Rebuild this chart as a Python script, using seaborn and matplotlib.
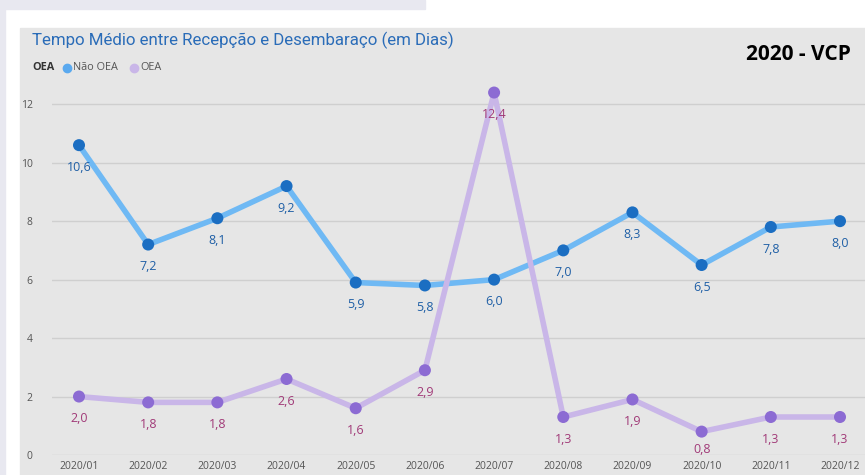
import matplotlib
matplotlib.use("Agg")
import matplotlib.pyplot as plt
import pandas as pd
import seaborn as sns
from matplotlib.lines import Line2D
from matplotlib.patches import Rectangle

# data
meses = ["2020/01", "2020/02", "2020/03", "2020/04", "2020/05", "2020/06",
         "2020/07", "2020/08", "2020/09", "2020/10", "2020/11", "2020/12"]
nao_oea = [10.6, 7.2, 8.1, 9.2, 5.9, 5.8, 6.0, 7.0, 8.3, 6.5, 7.8, 8.0]
oea = [2.0, 1.8, 1.8, 2.6, 1.6, 2.9, 12.4, 1.3, 1.9, 0.8, 1.3, 1.3]
yticks = [0, 2, 4, 6, 8, 10, 12]

df = pd.DataFrame({
    "pos": list(range(len(meses))) * 2,
    "valor": nao_oea + oea,
    "serie": ["Não OEA"] * len(meses) + ["OEA"] * len(meses),
})

line_cols = {"Não OEA": "#6fb9f4", "OEA": "#c9b6e8"}
dot_cols = {"Não OEA": "#1b6ec2", "OEA": "#8c6bd3"}
lab_cols = {"Não OEA": "#1f5fa6", "OEA": "#a13a78"}

plt.rcParams["font.family"] = ["Open Sans", "DejaVu Sans"]
fig = plt.figure(figsize=(8.65, 4.75), dpi=100)
fig.patch.set_facecolor("white")
W, H = 865, 475

# page background bits
for r in [Rectangle((0, 1 - 9 / H), 425 / W, 9 / H, color="#e8e8f0"),
          Rectangle((0, 0), 5 / W, 1 - 9 / H, color="#e8e8f0"),
          Rectangle((20 / W, 0), 845 / W, 1 - 28 / H, color="#e6e6e6")]:
    r.set_transform(fig.transFigure)
    r.set_zorder(-10)
    fig.patches.append(r)

ax = fig.add_axes([52 / W, (H - 455) / H, (W - 52) / W, (455 - 75) / H])
ax.set_facecolor("none")
ax.set_zorder(1)

sns.lineplot(data=df, x="pos", y="valor", hue="serie", palette=line_cols,
             linewidth=4, legend=False, ax=ax, zorder=2)
sns.scatterplot(data=df, x="pos", y="valor", hue="serie", palette=dot_cols,
                s=75, edgecolor="none", legend=False, ax=ax, zorder=3)

# data labels, all placed below the point (small values get less room)
for vals, name in [(nao_oea, "Não OEA"), (oea, "OEA")]:
    for i, v in enumerate(vals):
        dy = -16 if v >= 1 else -13
        ax.annotate(f"{v:.1f}".replace(".", ","), (i, v), xytext=(0, dy),
                    textcoords="offset points", ha="center", va="center",
                    fontsize=9, color=lab_cols[name], zorder=4)

spacing = (840 - 79) / 11
ax.set_xlim(-(79 - 52) / spacing, 11 + (865 - 840) / spacing)
ax.set_ylim(0, 13)
ax.set_xticks(range(len(meses)))
ax.set_xticklabels(meses)
ax.set_yticks(yticks)
ax.grid(axis="y", color="#cfcfcf", linewidth=1)
ax.grid(axis="x", visible=False)
ax.set_axisbelow(True)
ax.tick_params(length=0, labelsize=7.5, colors="#555555", pad=4)
ax.tick_params(axis="y", pad=14)
ax.set_xlabel("")
ax.set_ylabel("")
for s in ax.spines.values():
    s.set_visible(False)

# title and legend
fig.text(32 / W, 1 - 40 / H, "Tempo Médio entre Recepção e Desembaraço (em Dias)",
         fontsize=12.2, color="#2a6cb8", va="center", family=["Roboto", "DejaVu Sans"])
fig.text(851 / W, 1 - 54 / H, "2020 - VCP", fontsize=15, fontweight="bold",
         color="black", ha="right", va="center")
fig.text(32 / W, 1 - 68 / H, "OEA", fontsize=7.8, fontweight="bold", color="#333333", va="center")
fig.add_artist(Line2D([67 / W], [1 - 68 / H], marker="o", markersize=6, color="#5aa9ef",
                      linestyle="none", transform=fig.transFigure))
fig.text(73 / W, 1 - 68 / H, "Não OEA", fontsize=7.8, color="#555555", va="center")
fig.add_artist(Line2D([134 / W], [1 - 68 / H], marker="o", markersize=6, color="#c9b6e8",
                      linestyle="none", transform=fig.transFigure))
fig.text(140 / W, 1 - 68 / H, "OEA", fontsize=7.8, color="#555555", va="center")

fig.savefig("out.png", dpi=100)
